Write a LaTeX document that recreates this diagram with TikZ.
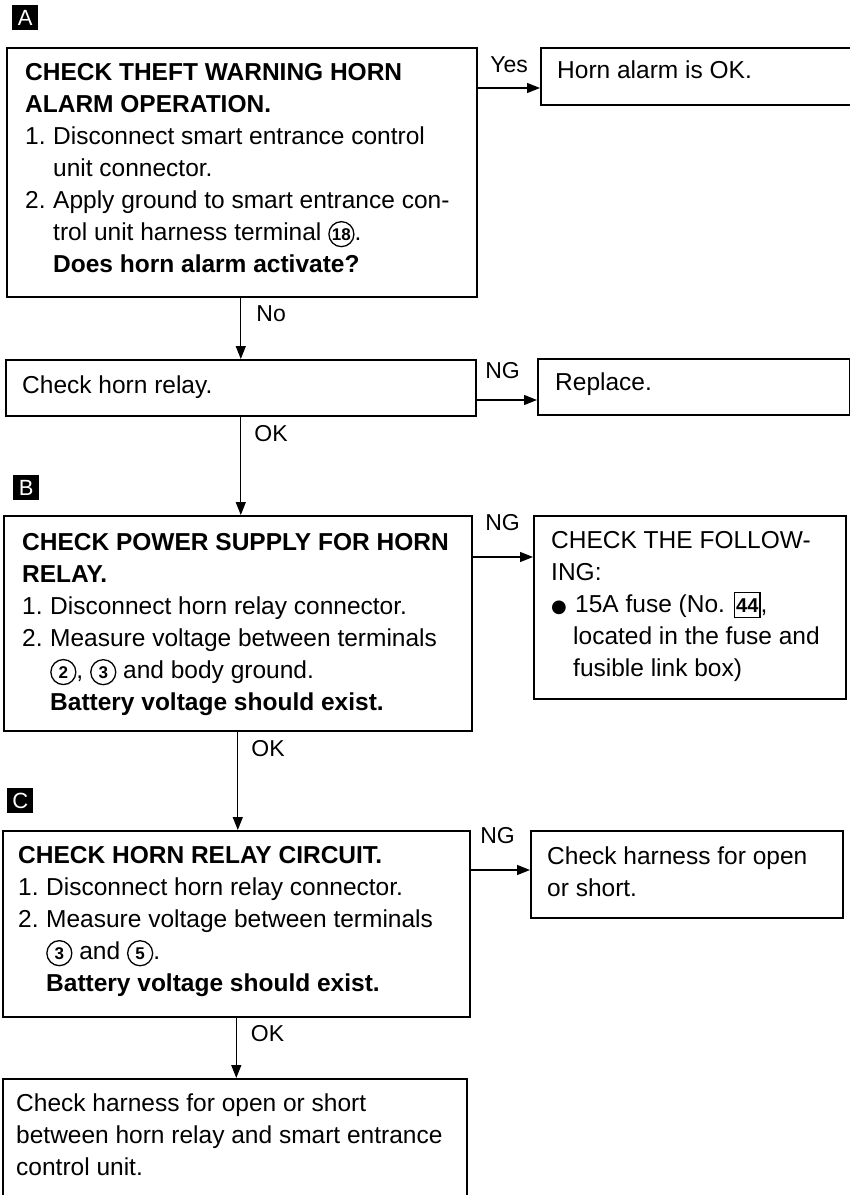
\documentclass[tikz,border=0pt]{standalone}
\usepackage{fontspec}
\setmainfont{Liberation Sans}
\newfontfamily\symfont{DejaVu Sans}
\usetikzlibrary{arrows.meta,calc}
\tikzset{
  fig/.style={font=\fontsize{24.5}{32}\selectfont},
  frame/.style={draw,line width=1.6pt,inner sep=0pt,anchor=north west},
  txt/.style={anchor=base west,inner sep=0pt,align=left},
  tag/.style={fill=black,text=white,minimum width=26pt,minimum height=25pt,
              inner sep=0pt,anchor=north west,font=\fontsize{22}{22}\selectfont},
  ln/.style={-{Triangle[length=13pt,width=10pt]},line width=1.3pt},
  lbl/.style={font=\fontsize{23}{23}\selectfont,inner sep=0pt,anchor=base west},
  circnum/.style={circle,draw,line width=1.3pt,inner sep=0pt,minimum size=25pt,
                  anchor=center,font=\bfseries\fontsize{17}{17}\selectfont},
  fusebox/.style={draw,line width=1.3pt,inner sep=1.5pt,minimum height=25pt,
                  minimum width=23pt,anchor=center,
                  font=\bfseries\fontsize{20}{20}\selectfont},
}
\newcommand{\cnum}[1]{\tikz[baseline=(cn.base)]\node[circnum](cn){#1};}
\newcommand{\fuseno}[1]{\tikz[baseline=(fn.base)]\node[fusebox](fn){#1};}
\newcommand{\stepno}[1]{\makebox[28pt][l]{#1}}
\newcommand{\contind}{\hspace*{28pt}}

\begin{document}
\begin{tikzpicture}[fig,x=1pt,y=-1pt]
\useasboundingbox (0,0) rectangle (850,1195);

% step A (texts sit on the baseline of their last line)
\node[tag] (tagA) at (12,5) {A};
\node[frame,minimum width=470pt,minimum height=249pt] (chkA) at (6,47) {};
\node[txt] (tA) at ($(chkA.north west)+(19,225)$) {%
  {\bfseries CHECK THEFT WARNING HORN}\\
  {\bfseries ALARM OPERATION.}\\
  \stepno{1.}Disconnect smart entrance control\\
  \contind unit connector.\\
  \stepno{2.}Apply ground to smart entrance con-\\
  \contind trol unit harness terminal \cnum{18}.\\
  \contind{\bfseries Does horn alarm activate?}};

\node[frame,minimum width=311pt,minimum height=57pt] (okA) at (540,47) {};
\node[txt] (tOk) at ($(okA.north west)+(17,31)$) {Horn alarm is OK.};
\draw[ln] ($(chkA.north east)+(0,41)$) -- ($(okA.north west)+(0,41)$)
  node[lbl,at start,xshift=12pt,yshift=16pt] (yes) {Yes};

\node[frame,minimum width=470pt,minimum height=56pt] (relay) at (5,359) {};
\node[txt] (tRelay) at ($(relay.north west)+(17,34)$) {Check horn relay.};
\draw[ln] (chkA.south -| relay.north) -- (relay.north)
  node[lbl,at start,xshift=15pt,yshift=-24pt] (no) {No};

\node[frame,minimum width=312pt,minimum height=56pt] (repl) at (537,358) {};
\node[txt] (tRepl) at ($(repl.north west)+(18,32)$) {Replace.};
\draw[ln] ($(relay.north east)+(0,41)$) -- ($(repl.north west)+(0,42)$)
  node[lbl,at start,xshift=8pt,yshift=22pt] (ng1) {NG};

% step B
\node[tag] (tagB) at (13,475) {B};
\node[frame,minimum width=468pt,minimum height=215pt] (chkB) at (3,515) {};
\node[txt] (tB) at ($(chkB.north west)+(19,195)$) {%
  {\bfseries CHECK POWER SUPPLY FOR HORN}\\
  {\bfseries RELAY.}\\
  \stepno{1.}Disconnect horn relay connector.\\
  \stepno{2.}Measure voltage between terminals\\
  \contind\cnum{2}, \cnum{3} and body ground.\\
  \contind{\bfseries Battery voltage should exist.}};
\draw[ln] (relay.south) -- (relay.south |- chkB.north)
  node[lbl,at start,xshift=13pt,yshift=-25pt] (ok1) {OK};

\node[frame,minimum width=312pt,minimum height=183pt] (follow) at (533,515) {};
\node[txt] (tFollow) at ($(follow.north west)+(18,161)$) {%
  CHECK THE FOLLOW-\\
  ING:\\
  \makebox[24pt][l]{\symfont\fontsize{18}{18}\selectfont ●}15A fuse (No. \fuseno{44},\\
  \hspace*{22pt}located in the fuse and\\
  \hspace*{22pt}fusible link box)};
\draw[ln] ($(chkB.north east)+(0,42)$) -- ($(follow.north west)+(0,42)$)
  node[lbl,at start,xshift=12pt,yshift=27pt] (ng2) {NG};

% step C
\node[tag] (tagC) at (7,788) {C};
\node[frame,minimum width=467pt,minimum height=186pt] (chkC) at (2,830) {};
\node[txt] (tC) at ($(chkC.north west)+(16,161)$) {%
  {\bfseries CHECK HORN RELAY CIRCUIT.}\\
  \stepno{1.}Disconnect horn relay connector.\\
  \stepno{2.}Measure voltage between terminals\\
  \contind\cnum{3} and \cnum{5}.\\
  \contind{\bfseries Battery voltage should exist.}};
\draw[ln] (chkB.south) -- (chkB.south |- chkC.north)
  node[lbl,at start,xshift=13pt,yshift=-25pt] (ok2) {OK};

\node[frame,minimum width=312pt,minimum height=87pt] (harn) at (530,830) {};
\node[txt] (tHarn) at ($(harn.north west)+(17,66)$) {%
  Check harness for open\\
  or short.};
\draw[ln] ($(chkC.north east)+(0,40)$) -- ($(harn.north west)+(0,40)$)
  node[lbl,at start,xshift=9pt,yshift=27pt] (ng3) {NG};

\node[frame,minimum width=464pt,minimum height=119pt] (fin) at (2,1078) {};
\node[txt] (tFin) at ($(fin.north west)+(14,97)$) {%
  Check harness for open or short\\
  between horn relay and smart entrance\\
  control unit.};
\draw[ln] (chkC.south) -- (chkC.south |- fin.north)
  node[lbl,at start,xshift=14pt,yshift=-24pt] (ok3) {OK};

\end{tikzpicture}
\end{document}
